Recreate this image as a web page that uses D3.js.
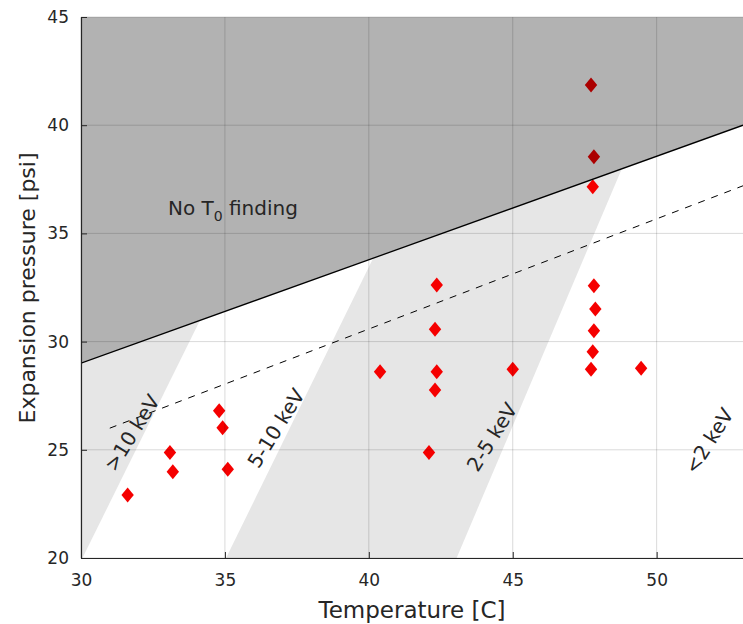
<!DOCTYPE html>
<html>
<head>
<meta charset="utf-8">
<script src="https://cdn.jsdelivr.net/npm/d3@7"></script>
<style>
  body { margin: 0; background: #fff; }
  text { font-family: "DejaVu Sans", sans-serif; fill: #262626; }
</style>
</head>
<body>
<svg width="743" height="624"></svg>
<script>
// measured points
var tempC = [31.62, 33.09, 33.19, 34.80, 34.92, 35.10, 40.39, 42.09, 42.36, 42.30, 42.36,
             42.30, 45.00, 47.72, 47.82, 47.78, 47.82, 47.87, 47.82, 47.78, 47.72, 49.46];
var pressure = [22.91, 24.88, 23.99, 26.81, 26.02, 24.10, 28.61, 24.88, 32.62, 30.57, 28.61,
                27.76, 28.72, 41.86, 38.54, 37.16, 32.58, 31.51, 30.50, 29.53, 28.72, 28.77];

// boundary lines
var limitX = [30, 53], limitY = [29, 40];
var dashX = [31, 53], dashY = [26, 37.2];

// energy bands (light gray polygons)
var band1X = [30, 30.05, 34.13, 30], band1Y = [20, 20, 30.97, 29];
var band2X = [35.04, 43.05, 48.79, 40.15], band2Y = [20, 20, 37.99, 33.85];

// labels
var bandLabels = [">10 keV", "5-10 keV", "2-5 keV", "<2 keV"];
var bandLabelX = [31.77, 36.78, 44.28, 51.82];
var bandLabelY = [25.78, 26.0, 25.59, 25.41];

var xTicks = [30, 35, 40, 45, 50];
var yTicks = [20, 25, 30, 35, 40, 45];

var svg = d3.select("svg");
var mLeft = 81, mRight = 743, mTop = 17, mBottom = 558;

var x = d3.scaleLinear().domain([30, 53]).range([mLeft, mRight]);
var y = d3.scaleLinear().domain([20, 45]).range([mBottom, mTop]);

var plot = svg.append("g");

plot.append("defs").append("clipPath").attr("id", "clip")
  .append("rect").attr("x", mLeft).attr("y", mTop)
  .attr("width", mRight - mLeft).attr("height", mBottom - mTop);

var area = plot.append("g").attr("clip-path", "url(#clip)");

function poly(xs, ys) {
  return xs.map(function(d, i) { return [x(d), y(ys[i])]; });
}

// light bands
[[band1X, band1Y], [band2X, band2Y]].forEach(function(b) {
  area.append("path")
    .attr("d", d3.line()(poly(b[0], b[1])) + "Z")
    .attr("fill", "#e6e6e6");
});

// dashed line
area.append("path")
  .attr("d", d3.line()(poly(dashX, dashY)))
  .attr("fill", "none")
  .attr("stroke", "#000")
  .attr("stroke-width", 1)
  .attr("stroke-dasharray", "7,7");

// red diamonds
area.selectAll(".pt")
  .data(tempC)
  .enter().append("path")
  .attr("class", "pt")
  .attr("transform", function(d, i) { return "translate(" + x(d) + "," + y(pressure[i]) + ")"; })
  .attr("d", "M0,-7.5L6.2,0L0,7.5L-6.2,0Z")
  .attr("fill", "#f50000");

// no-finding region (translucent dark)
area.append("path")
  .attr("d", d3.line()([[x(limitX[0]), y(45)], [x(limitX[0]), y(limitY[0])],
                        [x(limitX[1]), y(limitY[1])], [x(limitX[1]), y(45)]]) + "Z")
  .attr("fill", "#000")
  .attr("fill-opacity", 0.3);

area.append("path")
  .attr("d", d3.line()(poly(limitX, limitY)))
  .attr("fill", "none")
  .attr("stroke", "#000")
  .attr("stroke-width", 1.3);

// grid
var grid = plot.append("g").attr("stroke", "#000").attr("stroke-opacity", 0.15);
grid.selectAll(".gx").data(xTicks).enter().append("line")
  .attr("x1", function(d) { return x(d); }).attr("x2", function(d) { return x(d); })
  .attr("y1", mTop).attr("y2", mBottom);
grid.selectAll(".gy").data(yTicks).enter().append("line")
  .attr("y1", function(d) { return y(d); }).attr("y2", function(d) { return y(d); })
  .attr("x1", mLeft).attr("x2", mRight);

// axes
var xAxis = d3.axisBottom(x).tickValues(xTicks).tickSizeInner(-6).tickSizeOuter(0).tickPadding(16);
var yAxis = d3.axisLeft(y).tickValues(yTicks).tickSizeInner(-6).tickSizeOuter(0).tickPadding(12);

var gx = plot.append("g").attr("transform", "translate(0," + mBottom + ")").call(xAxis);
var gy = plot.append("g").attr("transform", "translate(" + mLeft + ",0)").call(yAxis);
[gx, gy].forEach(function(g) {
  g.selectAll("path").attr("stroke", "#262626").attr("stroke-width", 1.2);
  g.selectAll("line").attr("stroke", "#262626");
  g.selectAll("text").attr("font-size", 17).attr("font-family", "DejaVu Sans").attr("fill", "#262626");
});

// axis labels
svg.append("text")
  .attr("x", 412).attr("y", 618)
  .attr("text-anchor", "middle")
  .attr("font-size", 23)
  .text("Temperature [C]");

svg.append("text")
  .attr("transform", "translate(35,288) rotate(-90)")
  .attr("text-anchor", "middle")
  .attr("font-size", 22)
  .text("Expansion pressure [psi]");

// region text
var nf = svg.append("text")
  .attr("x", x(33.02)).attr("y", y(35.85))
  .attr("font-size", 20);
nf.append("tspan").text("No T");
nf.append("tspan").attr("font-size", 14).attr("dy", 6).text("0");
nf.append("tspan").attr("dy", -6).text(" finding");

svg.selectAll(".bl")
  .data(bandLabels)
  .enter().append("text")
  .attr("class", "bl")
  .attr("transform", function(d, i) {
    return "translate(" + x(bandLabelX[i]) + "," + y(bandLabelY[i]) + ") rotate(-58)";
  })
  .attr("text-anchor", "middle")
  .attr("dy", "0.35em")
  .attr("font-size", 20)
  .text(function(d) { return d; });
</script>
</body>
</html>
